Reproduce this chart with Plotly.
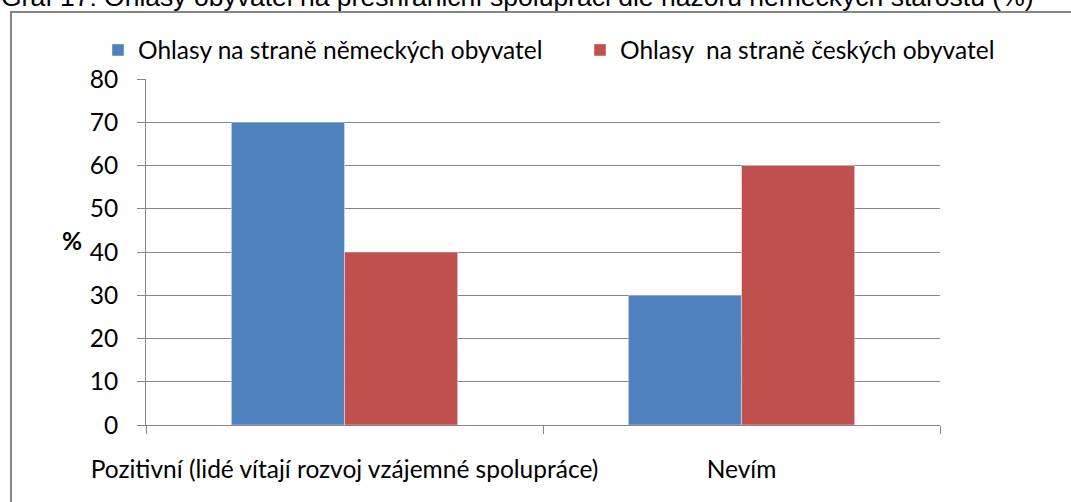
import plotly.graph_objects as go

categories = ["Pozitivní (lidé vítají rozvoj vzájemné spolupráce)", "Nevím"]
series_names = ["Ohlasy na straně německých obyvatel", "Ohlasy  na straně českých obyvatel"]
german = [70, 30]
czech = [40, 60]
colors = ["#4F81BD", "#C0504D"]
title_text = "Graf 17: Ohlasy obyvatel na přeshraniční spolupráci dle názoru německých starostů (%)"

W, H = 1071, 502
L, R, T, B = 146, 940, 79, 425
pw, ph = R - L, B - T

def px(x):
    return (x - L) / pw

def py(y):
    return (B - y) / ph

FONT = "Lato"
FS = 24.5

fig = go.Figure()
fig.add_trace(go.Bar(x=categories, y=german, name=series_names[0], marker_color=colors[0],
                     legend="legend"))
fig.add_trace(go.Bar(x=categories, y=czech, name=series_names[1], marker_color=colors[1],
                     legend="legend2"))

leg_common = dict(orientation="h", yanchor="middle", xanchor="left", itemwidth=30,
                  font=dict(family=FONT, size=FS), bgcolor="rgba(0,0,0,0)")

fig.update_layout(
    width=W, height=H,
    margin=dict(l=L, r=W - R, t=T, b=H - B, autoexpand=False),
    paper_bgcolor="white", plot_bgcolor="white",
    barmode="group", bargap=0.43, bargroupgap=0,
    font=dict(family=FONT, size=FS, color="black"),
    showlegend=True,
    legend=dict(x=px(98), y=py(50), **leg_common),
    legend2=dict(x=px(580), y=py(50), **leg_common),
    xaxis=dict(showline=True, linecolor="#868686", linewidth=1, ticks="outside", tickson="boundaries",
               ticklen=8, tickcolor="#868686", showgrid=False, tickfont=dict(family=FONT, size=FS),
               tickangle=0, automargin=False, ticklabelstandoff=23),
    yaxis=dict(range=[0, 80], dtick=10, showline=True, linecolor="#868686", linewidth=1,
               ticks="outside", ticklen=8, tickcolor="#868686", showgrid=True, gridcolor="#868686",
               gridwidth=1, tickfont=dict(family=FONT, size=FS), zeroline=False,
               ticklabelstandoff=14, automargin=False),
)

fig.add_annotation(text="<b>%</b>", xref="paper", yref="paper", x=px(72), y=py(240),
                   xanchor="center", yanchor="middle",
                   showarrow=False, font=dict(family=FONT, size=FS))
fig.add_annotation(text=title_text, xref="paper", yref="paper", x=px(-1), y=py(14),
                   xanchor="left", yanchor="bottom", showarrow=False,
                   font=dict(family="Liberation Sans", size=26.5, color="black"))
fig.add_shape(type="rect", xref="paper", yref="paper", x0=px(11), x1=px(1100), y0=py(540), y1=py(12),
              line=dict(color="#868686", width=2), layer="below")

fig.write_html("out.html", config={"displayModeBar": False},
               post_script="document.body.style.margin='0';")
